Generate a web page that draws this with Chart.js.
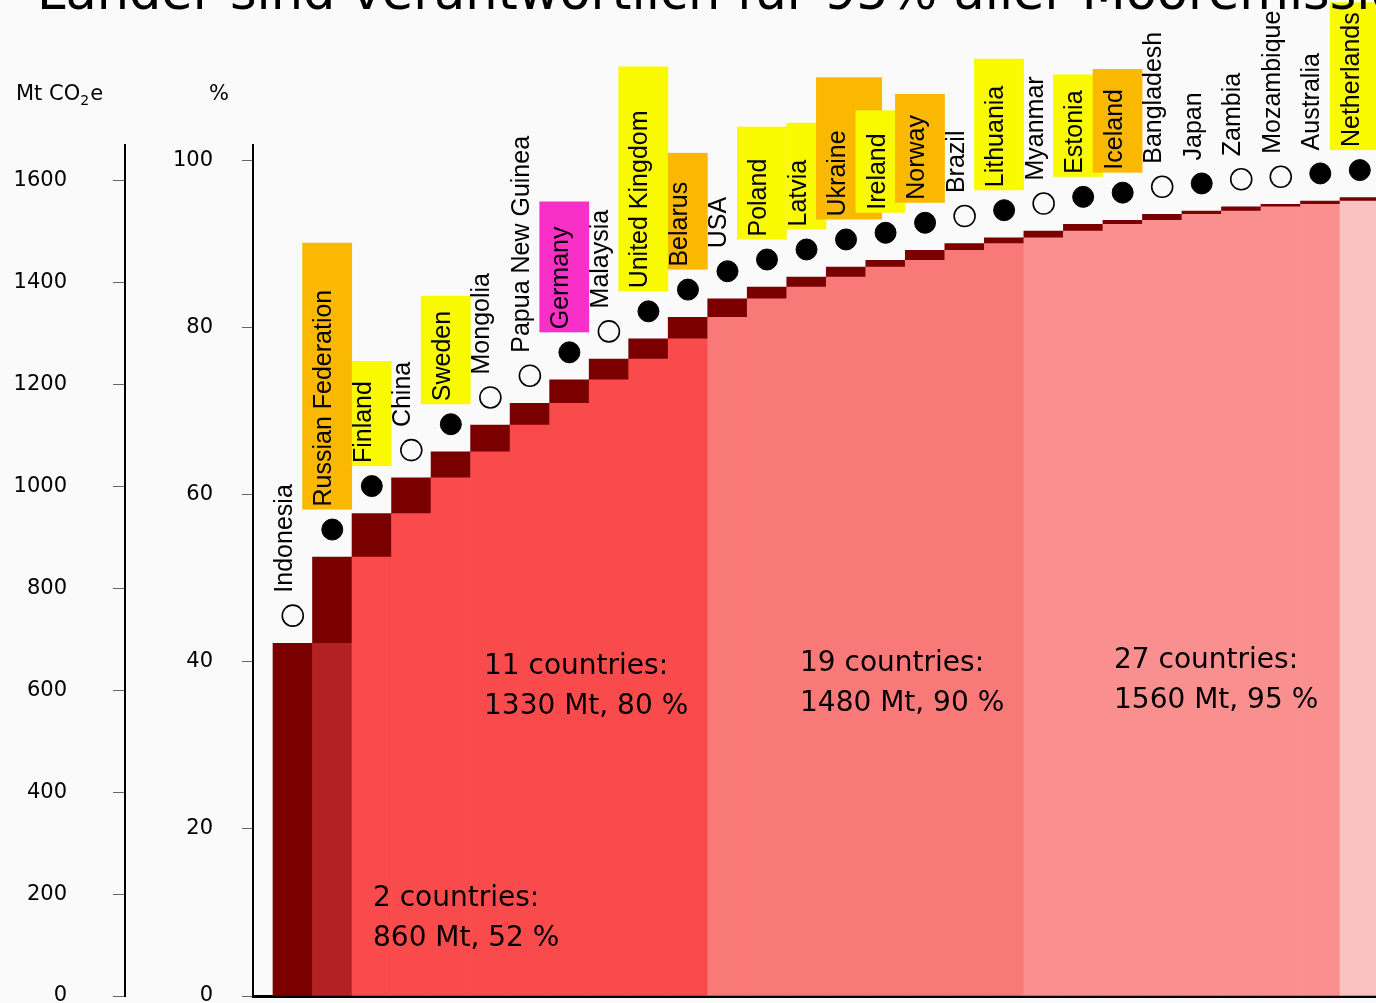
<!DOCTYPE html>
<html>
<head>
<meta charset="utf-8">
<script src="https://cdn.jsdelivr.net/npm/chart.js@4.4.1/dist/chart.umd.min.js"></script>
<style>
  html, body { margin: 0; padding: 0; background: #fafafa; overflow: hidden; }
</style>
</head>
<body>
<canvas id="chart" width="1376" height="1003"></canvas>
<script>
// ========================== DATA ==========================
const titleText = "Länder sind verantwortlich für 95% aller Mooremissionen";

const countries = [
  "Indonesia", "Russian Federation", "Finland", "China", "Sweden", "Mongolia",
  "Papua New Guinea", "Germany", "Malaysia", "United Kingdom", "Belarus", "USA",
  "Poland", "Latvia", "Ukraine", "Ireland", "Norway", "Brazil", "Lithuania",
  "Myanmar", "Estonia", "Iceland", "Bangladesh", "Japan", "Zambia", "Mozambique",
  "Australia", "Netherlands"
];

// cumulative share of peatland emissions, %
const cumulativePct = [
  42.2, 52.5, 57.7, 62.0, 65.1, 68.3, 70.9, 73.7, 76.2, 78.6, 81.2, 83.4,
  84.8, 86.0, 87.2, 88.0, 89.2, 90.0, 90.7, 91.5, 92.3, 92.8, 93.5, 93.9,
  94.4, 94.7, 95.1, 95.5
];

// 1 = filled dot, 0 = open dot
const markerFilled = [
  0, 1, 1, 0, 1, 0, 0, 1, 0, 1, 1, 1, 1, 1, 1, 1, 1, 0, 1, 0, 1, 1, 0, 1, 0, 0, 1, 1
];

// number of countries at the end of each shaded block
const groupEnds = [1, 2, 11, 19, 27, 28];

const groupNotes = [
  ["2 countries:", "860 Mt, 52 %"],
  ["11 countries:", "1330 Mt, 80 %"],
  ["19 countries:", "1480 Mt, 90 %"],
  ["27 countries:", "1560 Mt, 95 %"]
];

const pctTicks = [0, 20, 40, 60, 80, 100];
const mtTicks = [0, 200, 400, 600, 800, 1000, 1200, 1400, 1600];

// ========================== STYLE ==========================
const YELLOW = "#f9f900";
const ORANGE = "#fbb800";
const MAGENTA = "#f930c8";
const groupColors = ["#7a0000", "#b32124", "#f94b4b", "#f97878", "#f98f8f", "#f9c2c2"];
const STEP_COLOR = "#7a0000";

// label highlight: [colour, room above text, left edge, right edge] (edges from column centre)
const highlights = {
  "Russian Federation": [ORANGE, 47],
  "Finland": [YELLOW, 20, -20],
  "Sweden": [YELLOW, 15],
  "Germany": [MAGENTA, 25],
  "United Kingdom": [YELLOW, 44],
  "Belarus": [ORANGE, 29, -20],
  "Poland": [YELLOW, 32],
  "Latvia": [YELLOW, 37, -20],
  "Ukraine": [ORANGE, 53, -30, 36],
  "Ireland": [YELLOW, 23],
  "Norway": [ORANGE, 21],
  "Lithuania": [YELLOW, 27],
  "Estonia": [YELLOW, 16],
  "Iceland": [ORANGE, 20],
  "Netherlands": [YELLOW, 10]
};

const notePos = [[373, 906], [484, 674], [800, 671], [1114, 668]];
const MARK_OFFSET = 3.3;   // dot sits a little above its step

// ========================== BUILD ==========================
function groupColor(i) {
  const g = groupEnds.findIndex(e => i < e);
  return groupColors[g];
}

const prevPct = cumulativePct.map((v, i) => (i === 0 ? 0 : cumulativePct[i - 1]));

const baseData = countries.map((c, i) => ({ x: i, y: [0, prevPct[i]] }));
const stepData = countries.map((c, i) => ({ x: i, y: [prevPct[i], cumulativePct[i]] }));
const markData = countries.map((c, i) => ({ x: i, y: cumulativePct[i] + MARK_OFFSET }));

Chart.defaults.font.family = '"DejaVu Sans", sans-serif';
Chart.defaults.font.size = 21;
Chart.defaults.color = "#000";

// scales otherwise reserve room for half a label above/below
function noPad(s) {
  s.paddingTop = 0;
  s.paddingBottom = 0;
}

// ========================== DECORATION ==========================
const decor = {
  id: "decor",
  beforeDraw(chart) {
    const ctx = chart.ctx;
    ctx.save();
    ctx.fillStyle = "#fafafa";
    ctx.fillRect(0, 0, chart.width, chart.height);
    ctx.restore();
  },
  afterDatasetsDraw(chart) {
    const ctx = chart.ctx;
    const xs = chart.scales.x;
    const marks = chart.getDatasetMeta(2).data;
    const half = (xs.getPixelForValue(1) - xs.getPixelForValue(0)) / 2;

    ctx.save();
    ctx.font = '25px "Liberation Sans", Arial, sans-serif';

    // highlight boxes first
    countries.forEach((name, i) => {
      const hl = highlights[name];
      if (!hl) return;
      const cx = xs.getPixelForValue(i);
      const bottom = marks[i].y - 23;
      const w = ctx.measureText(name).width;
      const left = cx + (hl[2] || -30);
      const right = cx + (hl[3] || half);
      ctx.fillStyle = hl[0];
      ctx.fillRect(left, bottom - w - hl[1], right - left, w + hl[1] + 3);
    });

    // rotated country names
    ctx.fillStyle = "#000";
    ctx.textAlign = "left";
    ctx.textBaseline = "alphabetic";
    countries.forEach((name, i) => {
      const cx = xs.getPixelForValue(i);
      const bottom = marks[i].y - 23;
      ctx.save();
      ctx.translate(cx - 1, bottom);
      ctx.rotate(-Math.PI / 2);
      ctx.fillText(name, 0, 0);
      ctx.restore();
    });

    // block notes
    ctx.font = '28px "DejaVu Sans", sans-serif';
    groupNotes.forEach((lines, k) => {
      const [x, y] = notePos[k];
      lines.forEach((t, j) => ctx.fillText(t, x, y + j * 40));
    });

    // axis titles
    ctx.font = '21px "DejaVu Sans", sans-serif';
    ctx.fillText("Mt CO", 16, 100);
    const w1 = ctx.measureText("Mt CO").width;
    ctx.font = '14px "DejaVu Sans", sans-serif';
    ctx.fillText("2", 16 + w1, 105);
    const w2 = ctx.measureText("2").width;
    ctx.font = '21px "DejaVu Sans", sans-serif';
    ctx.fillText("e", 16 + w1 + w2 + 1, 100);
    ctx.fillText("%", 209, 100);

    // title (cut off at the top edge)
    ctx.font = '51px "DejaVu Sans", sans-serif';
    ctx.fillText(titleText, 37, 9);
    ctx.restore();
  }
};

// ========================== CHART ==========================
new Chart(document.getElementById("chart"), {
  type: "bar",
  data: {
    datasets: [
      {
        data: baseData,
        backgroundColor: countries.map((c, i) => groupColor(i)),
        borderWidth: 0,
        grouped: false,
        barPercentage: 1,
        categoryPercentage: 1,
        yAxisID: "y"
      },
      {
        data: stepData,
        backgroundColor: STEP_COLOR,
        borderWidth: 0,
        grouped: false,
        barPercentage: 1,
        categoryPercentage: 1,
        yAxisID: "y"
      },
      {
        type: "line",
        data: markData,
        showLine: false,
        yAxisID: "y",
        pointRadius: 10.5,
        pointBackgroundColor: markerFilled.map(f => (f ? "#000" : "#fafafa")),
        pointBorderColor: "#000",
        pointBorderWidth: markerFilled.map(f => (f ? 1 : 1.6))
      }
    ]
  },
  options: {
    responsive: false,
    animation: false,
    devicePixelRatio: 1,
    layout: { autoPadding: false, padding: { top: 145, left: 0, right: 0, bottom: 0 } },
    plugins: { legend: { display: false }, tooltip: { enabled: false } },
    scales: {
      x: {
        type: "linear",
        offset: false,
        min: -1.006,
        max: 27.41,
        ticks: { display: false },
        grid: { display: false },
        border: { display: true, color: "#000", width: 3 },
        afterFit: s => { s.height = 7; s.paddingLeft = 0; s.paddingRight = 0; }
      },
      y: {
        type: "linear",
        position: "left",
        weight: 0,
        min: 0,
        max: 101.8,
        afterBuildTicks: s => { s.ticks = pctTicks.map(v => ({ value: v })); },
        ticks: { padding: 29, color: "#000", callback: v => String(v) },
        grid: { drawOnChartArea: false, tickLength: 11, color: "#666" },
        border: { display: true, color: "#000", width: 2 },
        afterFit: s => { s.width = 128; noPad(s); }
      },
      mt: {
        type: "linear",
        position: "left",
        weight: 1,
        min: 0,
        max: 1670,
        afterBuildTicks: s => { s.ticks = mtTicks.map(v => ({ value: v })); },
        ticks: { padding: 46, color: "#000", callback: v => String(v) },
        grid: { drawOnChartArea: false, tickLength: 12, color: "#666" },
        border: { display: true, color: "#000", width: 2 },
        afterFit: s => { s.width = 125; noPad(s); }
      }
    }
  },
  plugins: [decor]
});
</script>
</body>
</html>
